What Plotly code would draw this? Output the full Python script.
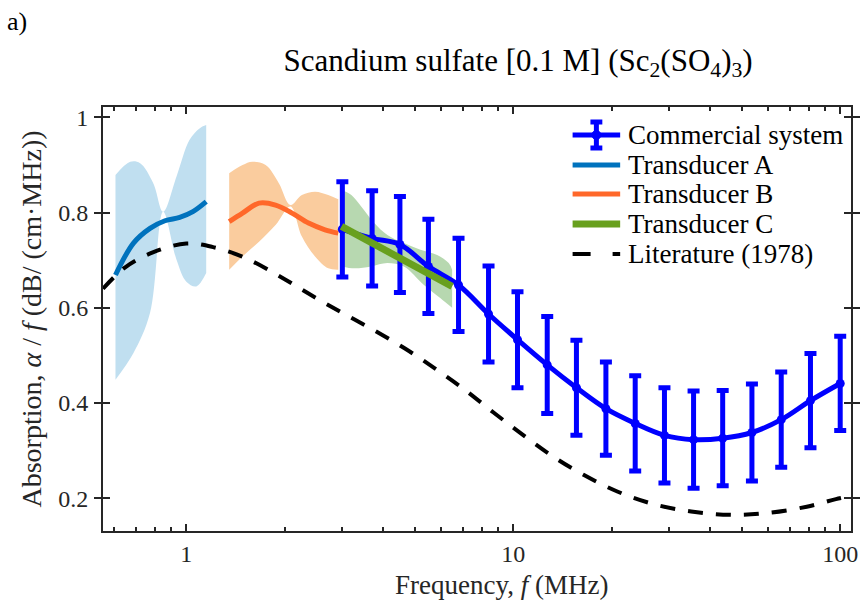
import plotly.graph_objects as go

# ---------------- data ----------------
comm_f = [3.0, 3.7, 4.5, 5.5, 6.8, 8.4, 10.3, 12.7, 15.6, 19.2, 23.6, 29.0, 35.6, 43.7, 53.7, 66.0, 81.1, 100.0]
comm_a = [0.765, 0.746, 0.733, 0.687, 0.648, 0.587, 0.533, 0.480, 0.432, 0.388, 0.357, 0.332, 0.323, 0.326, 0.338, 0.365, 0.405, 0.441]
comm_err = [0.100, 0.100, 0.101, 0.099, 0.098, 0.101, 0.101, 0.102, 0.100, 0.098, 0.100, 0.100, 0.102, 0.100, 0.102, 0.100, 0.099, 0.099]

a_f = [0.607, 0.689, 0.774, 0.860, 0.954, 1.047, 1.150]
a_a = [0.669, 0.736, 0.767, 0.783, 0.790, 0.802, 0.823]
a_up_f = [0.607, 0.673, 0.722, 0.792, 0.849, 0.933, 1.023, 1.097, 1.150]
a_up = [0.879, 0.907, 0.904, 0.862, 0.802, 0.876, 0.953, 0.977, 0.984]
a_lo_f = [0.607, 0.689, 0.774, 0.849, 0.933, 1.000, 1.073, 1.150]
a_lo = [0.449, 0.505, 0.589, 0.802, 0.701, 0.655, 0.645, 0.673]

b_f = [1.352, 1.485, 1.668, 1.874, 2.104, 2.364, 2.655, 2.915]
b_a = [0.781, 0.799, 0.820, 0.816, 0.799, 0.778, 0.764, 0.757]
b_up_f = [1.352, 1.485, 1.592, 1.748, 1.918, 2.081, 2.256, 2.475, 2.716, 2.915]
b_up = [0.883, 0.900, 0.907, 0.900, 0.862, 0.816, 0.837, 0.844, 0.837, 0.828]
b_lo_f = [1.352, 1.485, 1.668, 1.874, 2.081, 2.256, 2.475, 2.716, 2.915]
b_lo = [0.680, 0.708, 0.739, 0.774, 0.813, 0.750, 0.708, 0.683, 0.680]

c_f = [2.982, 6.50]
c_a = [0.771, 0.645]
c_up_f = [2.982, 3.196, 3.426, 3.756, 4.119, 4.625, 5.20, 5.85, 6.346, 6.50]
c_up = [0.848, 0.837, 0.813, 0.778, 0.753, 0.736, 0.722, 0.711, 0.694, 0.680]
c_lo_f = [2.982, 3.27, 3.67, 4.119, 4.625, 5.33, 5.99, 6.50]
c_lo = [0.687, 0.683, 0.687, 0.694, 0.687, 0.648, 0.620, 0.600]

lit_f = [0.556, 0.65, 0.8, 1.0, 1.2, 1.5, 1.9, 2.35, 2.95, 3.7, 4.65, 5.8, 7.1, 8.7, 10.7, 13.2,
         16.4, 20.8, 26.7, 35.0, 46.0, 60.0, 79.0, 97.0, 108.0]
lit_a = [0.640, 0.685, 0.718, 0.735, 0.728, 0.706, 0.669, 0.631, 0.592, 0.555, 0.515, 0.471, 0.428,
         0.380, 0.333, 0.288, 0.249, 0.214, 0.188, 0.172, 0.165, 0.169, 0.182, 0.198, 0.205]

legend_labels = ["Commercial system", "Transducer A", "Transducer B", "Transducer C", "Literature (1978)"]

y_ticks = [0.2, 0.4, 0.6, 0.8, 1.0]
y_ticktext = ["0.2", "0.4", "0.6", "0.8", "1"]
x_ticks = [1, 10, 100]
x_ticktext = ["1", "10", "100"]
x_minor = [0.6, 0.7, 0.8, 0.9, 2, 3, 4, 5, 6, 7, 8, 9, 20, 30, 40, 50, 60, 70, 80, 90]

# ---------------- styles ----------------
FONT = "Liberation Serif"
AX = "#262626"
C_COMM = "rgb(0,0,255)"
C_A, C_A_BAND = "rgb(0,114,189)", "rgb(192,223,240)"
C_B, C_B_BAND = "rgb(255,104,42)", "rgb(250,204,158)"
C_C, C_C_BAND = "rgb(104,160,30)", "rgb(183,216,176)"
LIT_DASH = "15px,13px"

# plot-area geometry (pixels) for placing decorations
L, R, T, B = 103, 858, 107, 531
X_RANGE = [-0.255, 2.033]


def px(x):
    return (x - L) / (R - L)


def py(y):
    return (B - y) / (B - T)


fig = go.Figure()


def band(xl, yl, xu, yu, color):
    fig.add_trace(go.Scatter(x=xl, y=yl, mode="lines", line=dict(width=0, color=color, shape="spline"),
                             showlegend=False, hoverinfo="skip"))
    fig.add_trace(go.Scatter(x=xu, y=yu, mode="lines", line=dict(width=0, color=color, shape="spline"),
                             fill="tonexty", fillcolor=color, showlegend=False, hoverinfo="skip"))


band(a_lo_f, a_lo, a_up_f, a_up, C_A_BAND)
band(b_lo_f, b_lo, b_up_f, b_up, C_B_BAND)
band(c_lo_f, c_lo, c_up_f, c_up, C_C_BAND)

fig.add_trace(go.Scatter(x=a_f, y=a_a, mode="lines", name=legend_labels[1], showlegend=False,
                         line=dict(color=C_A, width=5, shape="spline")))
fig.add_trace(go.Scatter(x=b_f, y=b_a, mode="lines", name=legend_labels[2], showlegend=False,
                         line=dict(color=C_B, width=5, shape="spline")))
fig.add_trace(go.Scatter(x=lit_f, y=lit_a, mode="lines", name=legend_labels[4], showlegend=False,
                         line=dict(color="black", width=4, dash=LIT_DASH, shape="spline")))
fig.add_trace(go.Scatter(x=comm_f, y=comm_a, mode="lines+markers", name=legend_labels[0], showlegend=False,
                         line=dict(color=C_COMM, width=5, shape="spline"),
                         marker=dict(size=9, color=C_COMM),
                         error_y=dict(type="data", array=comm_err, color=C_COMM, thickness=5, width=6)))
fig.add_trace(go.Scatter(x=c_f, y=c_a, mode="lines", name=legend_labels[3], showlegend=False,
                         line=dict(color=C_C, width=7)))
# invisible trace to activate the top (mirror) axis carrying the minor ticks
fig.add_trace(go.Scatter(x=[x_ticks[0]], y=[y_ticks[0]], xaxis="x2", mode="markers",
                         marker=dict(opacity=0), showlegend=False, hoverinfo="skip"))

axis_common = dict(showline=True, linecolor=AX, linewidth=2, mirror="allticks", ticks="inside",
                   tickcolor=AX, tickwidth=2, ticklen=7, showgrid=False, zeroline=False,
                   tickfont=dict(family=FONT, size=24, color=AX))
minor_common = dict(ticks="inside", ticklen=4, tickcolor=AX, tickwidth=2, showgrid=False, tickvals=x_minor)

fig.update_layout(
    xaxis=dict(type="log", range=X_RANGE, tickvals=x_ticks, ticktext=x_ticktext, minor=minor_common,
               **axis_common),
    xaxis2=dict(type="log", range=X_RANGE, overlaying="x", side="top", tickvals=x_ticks,
                showticklabels=False, showline=False, ticks="inside", tickcolor=AX, tickwidth=2,
                ticklen=7, showgrid=False, zeroline=False, minor=minor_common),
    yaxis=dict(range=[0.131, 1.022], tickvals=y_ticks, ticktext=y_ticktext,
               title=dict(text="Absorption, <i>α</i> / <i>f</i> (dB/ (cm·MHz))",
                          font=dict(family=FONT, size=28, color=AX), standoff=8),
               ticklabelstandoff=8, **axis_common),
)

# ---------------- manual legend (MATLAB-like compact layout) ----------------
shapes = []
annotations = []
rows_y = [135, 165, 194, 224, 254]
x0s, x1s, xt = 577, 625, 631
colors = [C_COMM, C_A, C_B, C_C, "black"]
widths = [5, 5, 5, 7, 4]
for i, (lab, yy) in enumerate(zip(legend_labels, rows_y)):
    dash = "solid" if i < 4 else "18px,22px"
    shapes.append(dict(type="line", xref="paper", yref="paper", x0=px(x0s), x1=px(x1s), y0=py(yy), y1=py(yy),
                       line=dict(color=colors[i], width=widths[i], dash=dash)))
    annotations.append(dict(text=lab, xref="paper", yref="paper", x=px(xt), y=py(yy), xanchor="left",
                            yanchor="middle", showarrow=False, font=dict(family=FONT, size=27, color="black")))
# error-bar glyph + marker for the commercial system entry
xc = (x0s + x1s) / 2
yc = rows_y[0]
shapes.append(dict(type="line", xref="paper", yref="paper", x0=px(xc), x1=px(xc), y0=py(yc - 13), y1=py(yc + 13),
                   line=dict(color=C_COMM, width=5)))
for dy in (-13, 13):
    shapes.append(dict(type="line", xref="paper", yref="paper", x0=px(xc - 6), x1=px(xc + 6),
                       y0=py(yc + dy), y1=py(yc + dy), line=dict(color=C_COMM, width=5)))
shapes.append(dict(type="circle", xref="paper", yref="paper", x0=px(xc - 4.5), x1=px(xc + 4.5),
                   y0=py(yc - 4.5), y1=py(yc + 4.5), fillcolor=C_COMM, line=dict(color=C_COMM, width=1)))

annotations.append(dict(text="a)", xref="paper", yref="paper", x=px(4), y=py(21), xanchor="left",
                        yanchor="middle", showarrow=False, font=dict(family=FONT, size=26, color="black")))
annotations.append(dict(text="Frequency, <i>f</i> (MHz)", xref="paper", yref="paper", x=px(505), y=py(585),
                        xanchor="center", yanchor="middle", showarrow=False,
                        font=dict(family=FONT, size=27, color=AX)))

fig.update_layout(
    width=865, height=605,
    margin=dict(l=L, r=865 - R, t=T, b=605 - B),
    paper_bgcolor="white", plot_bgcolor="white",
    font=dict(family=FONT, color=AX),
    showlegend=False,
    title=dict(text="Scandium sulfate [0.1 M] (Sc<sub>2</sub>(SO<sub>4</sub>)<sub>3</sub>)",
               font=dict(family=FONT, size=31, color="black"), xref="paper", x=px(522), xanchor="center",
               yref="container", y=1 - 60 / 605, yanchor="middle"),
    shapes=shapes,
    annotations=annotations,
)

fig.write_html("out.html")
